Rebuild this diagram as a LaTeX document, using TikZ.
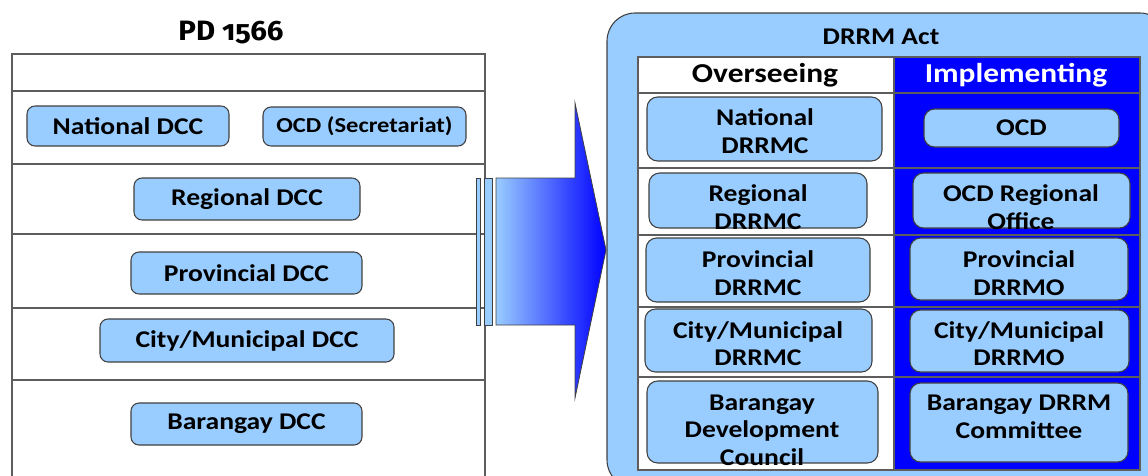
\documentclass[tikz,border=0pt]{standalone}
\usepackage{fontspec}
\setmainfont{Carlito}[FakeStretch=1.15]
\newfontfamily\titlefont{Fira Sans}[Numbers=OldStyle, FakeStretch=1.05]
\usetikzlibrary{fit}
\definecolor{lb}{HTML}{99CCFF}
\definecolor{bl}{HTML}{0000FF}
\definecolor{edge}{HTML}{404040}
\begin{document}
\begin{tikzpicture}[x=0.75pt,y=-0.75pt,
  lbox/.style={draw=edge, line width=0.8pt, fill=lb, rounded corners=6pt, inner sep=0pt},
  rbox/.style={lbox, rounded corners=8pt},
  txt/.style={font=\fontsize{18}{20.6}\selectfont\bfseries, align=center, inner sep=0pt},
  htxt/.style={font=\fontsize{20.5}{24}\selectfont\bfseries, inner sep=0pt},
  tline/.style={draw=edge!85, line width=0.8pt}]
\useasboundingbox (0,0) rectangle (1148,475);
\clip (0,0) rectangle (1148,475);

% ---------- left: PD 1566 ----------
\node[htxt, font=\titlefont\fontsize{21}{25}\selectfont\bfseries] (pdt) at (231,33) {PD 1566};
\draw[tline, fill=white] (12,54) rectangle (485,495);
\foreach \y in {91,164,234,308,380} \draw[tline] (12,\y) -- (485,\y);

\node[lbox, fit={(27,106)(229,146)}] (natdcc) {};
\node[txt] (natdcct) at (natdcc.center) {National DCC};
\node[lbox, fit={(263,107)(466,146)}] (ocds) {};
\node[txt, font=\fontsize{16}{19}\selectfont\bfseries] (ocdst) at (ocds.center) {OCD (Secretariat)};
\node[lbox, fit={(134,178)(360,220)}] (regdcc) {};
\node[txt] (regdcct) at (regdcc.center) {Regional DCC};
\node[lbox, fit={(131,252)(362,294)}] (provdcc) {};
\node[txt] (provdcct) at (provdcc.center) {Provincial DCC};
\node[lbox, fit={(100,319)(394,362)}] (citydcc) {};
\node[txt] (citydcct) at (citydcc.center) {City/Municipal DCC};
\node[lbox, fit={(131,403)(362,445)}] (brgydcc) {};
\node[txt] (brgydcct) at (brgydcc.center) {Barangay DCC};

% ---------- arrow ----------
\draw[draw=edge, line width=0.6pt, fill=lb] (476,178) rectangle (480,325);
\draw[draw=edge, line width=0.6pt, fill=lb] (484,178) rectangle (492,325);
\draw[draw=edge, line width=0.6pt, left color=lb, right color=bl]
  (496,178) -- (575,178) -- (575,103) -- (606,250) -- (575,398) -- (575,325) -- (496,325) -- cycle;

% ---------- right: DRRM Act ----------
\draw[draw=edge, line width=0.8pt, fill=lb, rounded corners=21pt] (607,13) rectangle (1168,488);
\node[htxt, font=\fontsize{18}{22}\selectfont\bfseries] (drrm) at (881,37) {DRRM Act};

\fill[white] (638,57) rectangle (894,470);
\fill[bl] (894,57) rectangle (1140,470);
\draw[tline] (638,57) rectangle (1140,470);
\draw[tline] (894,57) -- (894,470);
\foreach \y in {93,168,235,307,377} \draw[tline] (638,\y) -- (1140,\y);

\node[htxt] (ovs) at (765,75) {Overseeing};
\node[htxt, text=white] (imp) at (1016,75) {Implementing};

% overseeing column
\node[rbox, fit={(647,97)(882,161)}] (ndrrmc) {};
\node[txt] (ndrrmct) at (765,131) {National\\DRRMC};
\node[rbox, fit={(649,173)(867,228)}] (rdrrmc) {};
\node[txt] (rdrrmct) at (758,207) {Regional\\DRRMC};
\node[rbox, fit={(646,238)(870,302)}] (pdrrmc) {};
\node[txt] (pdrrmct) at (758,273) {Provincial\\DRRMC};
\node[rbox, fit={(645,309)(872,372)}] (cdrrmc) {};
\node[txt] (cdrrmct) at (758,343.5) {City/Municipal\\DRRMC};
\node[rbox, fit={(647,381)(878,463)}] (bdc) {};
\node[txt] (bdct) at (762,430) {Barangay\\Development\\Council};

% implementing column
\node[rbox, fit={(924,109)(1119,147)}] (ocd) {};
\node[txt] (ocdt) at (ocd.center) {OCD};
\node[rbox, fit={(913,173)(1130,228)}] (ocdr) {};
\node[txt] (ocdrt) at (1021,207) {OCD Regional\\Office};
\node[rbox, fit={(910,238)(1128,300)}] (pdrrmo) {};
\node[txt] (pdrrmot) at (1019,273) {Provincial\\DRRMO};
\node[rbox, fit={(910,310)(1129,372)}] (cdrrmo) {};
\node[txt] (cdrrmot) at (1019,343.5) {City/Municipal\\DRRMO};
\node[rbox, fit={(910,383)(1128,462)}] (bdrrm) {};
\node[txt] (bdrrmt) at (1019,417) {Barangay DRRM\\Committee};
\end{tikzpicture}
\end{document}
